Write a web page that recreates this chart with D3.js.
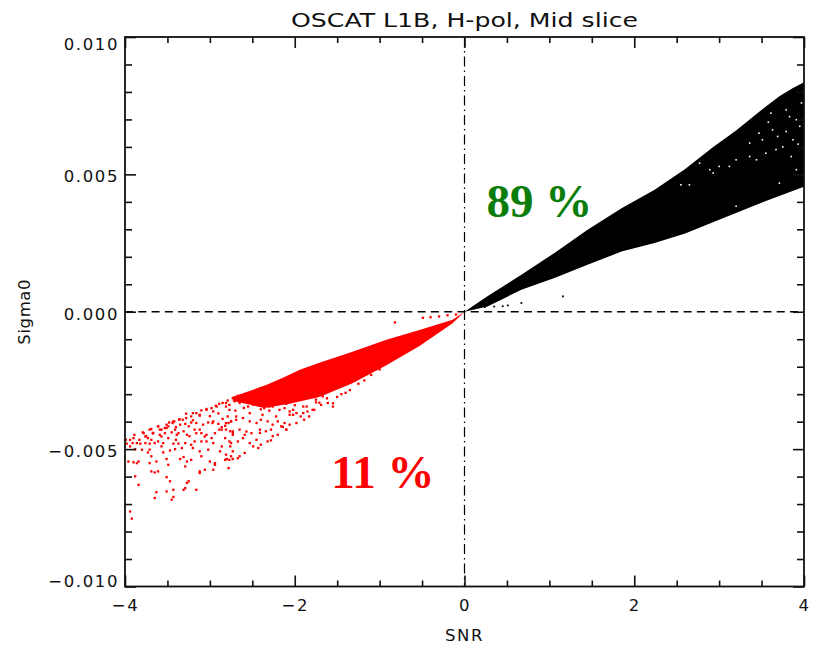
<!DOCTYPE html>
<html>
<head>
<meta charset="utf-8">
<script src="https://cdn.jsdelivr.net/npm/d3@7"></script>
<style>
  body { margin: 0; background: #fff; }
  text { font-family: "DejaVu Sans", sans-serif; fill: #111; }
</style>
</head>
<body>
<svg id="chart" width="817" height="650"></svg>
<script>
// ticks
const xTicks = [-4, -2, 0, 2, 4];
const xMinor = [-3.5, -3, -2.5, -1.5, -1, -0.5, 0.5, 1, 1.5, 2.5, 3, 3.5];
const yTicks = [-0.010, -0.005, 0, 0.005, 0.010];
const yMinor = [-0.009, -0.008, -0.007, -0.006, -0.004, -0.003, -0.002, -0.001,
                0.001, 0.002, 0.003, 0.004, 0.006, 0.007, 0.008, 0.009];

// all Sigma0 values below are in units of 1e-3, pairs are [SNR, Sigma0]
// edge of the dense black cloud (SNR > 0)
const blackUpper = [[0, 0], [0.27, 0.56], [0.67, 1.35], [1.06, 2.14], [1.45, 2.98], [1.85, 3.77],
  [2.24, 4.44], [2.6, 5.2], [2.93, 6.0], [3.2, 6.6], [3.48, 7.3], [3.71, 7.84], [3.87, 8.14], [4.0, 8.35]];
const blackLower = [[4.0, 4.55], [3.59, 4.08], [3.0, 3.35], [2.6, 2.85], [2.24, 2.5], [1.85, 2.19],
  [1.45, 1.71], [1.06, 1.23], [0.67, 0.8], [0.27, 0.19], [0, 0]];
// stray black points near the zero line
const blackDots = [[0.12, 0.13], [0.24, 0.17], [0.35, 0.19], [0.45, 0.2], [0.51, 0.23], [0.67, 0.32], [1.16, 0.56]];
// white gaps inside the black cloud
const blackGaps = [[3.63, 6.62], [3.69, 6.38], [3.79, 6.56], [3.87, 6.26], [3.95, 6.75], [3.51, 6.26],
  [3.36, 5.65], [3.44, 5.53], [3.2, 5.53], [3.0, 5.29], [2.93, 5.05], [3.12, 5.29], [3.61, 7.23],
  [3.79, 7.35], [3.91, 6.99], [3.85, 5.65], [3.91, 5.17], [3.67, 5.9], [3.55, 5.77], [3.36, 6.14],
  [3.47, 6.5], [2.55, 4.62], [2.65, 4.62], [3.71, 4.68], [3.2, 3.84], [2.77, 5.41], [2.89, 5.17],
  [3.97, 7.6], [3.83, 7.1], [3.93, 6.1], [3.75, 6.0], [3.58, 6.9]];

// dense core of the red cloud (SNR < 0)
const redUpper = [[0, 0], [-0.14, -0.29], [-0.53, -0.66], [-0.92, -1.02], [-1.32, -1.46], [-1.71, -1.86],
  [-1.94, -2.11], [-2.14, -2.4], [-2.33, -2.66], [-2.55, -2.9], [-2.73, -3.09]];
const redLower = [[-2.73, -3.25], [-2.36, -3.5], [-2.06, -3.35], [-1.71, -3.1], [-1.32, -2.6],
  [-0.92, -1.95], [-0.53, -1.25], [-0.14, -0.42], [0, 0]];
// scattered red points
const redDots = [
  [-3.43, -3.99], [-3.35, -4.11], [-3.29, -4.08], [-3.22, -4.03], [-3.16, -4.05], [-3.08, -4.11], [-3.02, -4.03],
  [-2.96, -3.99], [-2.9, -4.08], [-2.86, -4.2], [-2.82, -4.15], [-2.78, -4.05], [-2.75, -3.99],
  [-3.61, -4.17], [-3.53, -4.23], [-3.49, -4.17], [-3.41, -4.29], [-3.37, -4.42], [-3.31, -4.35], [-3.25, -4.17],
  [-3.18, -4.29], [-3.1, -4.42], [-3.04, -4.48], [-2.94, -4.42], [-2.86, -4.29], [-2.76, -4.35], [-2.73, -4.48],
  [-3.71, -4.29], [-3.67, -4.42], [-3.59, -4.48], [-3.57, -4.54], [-3.53, -4.42], [-3.45, -4.39], [-3.39, -4.48],
  [-3.27, -4.48], [-3.16, -4.42], [-3.06, -4.54], [-2.98, -4.6], [-2.82, -4.6], [-2.75, -4.78],
  [-3.78, -4.42], [-3.76, -4.54], [-3.73, -4.6], [-3.69, -4.66], [-3.61, -4.72], [-3.49, -4.6], [-3.43, -4.8],
  [-3.37, -4.8], [-3.29, -4.78], [-3.22, -4.84], [-3.18, -4.72], [-3.1, -4.72], [-3.04, -4.72], [-2.96, -4.78],
  [-2.86, -4.9], [-2.76, -4.9],
  [-3.94, -4.66], [-3.9, -4.6], [-3.86, -4.78], [-3.82, -4.8], [-3.76, -4.78], [-3.71, -4.8], [-3.65, -4.78],
  [-3.57, -4.9], [-3.47, -5.05], [-3.41, -5.0], [-3.33, -4.96], [-3.2, -4.96], [-3.12, -5.08], [-3.02, -5.02],
  [-2.88, -5.08], [-2.82, -5.39], [-2.75, -5.26],
  [-3.98, -4.8], [-3.94, -4.9], [-3.88, -5.0], [-3.8, -5.02], [-3.73, -5.12], [-3.69, -5.26], [-3.63, -5.45],
  [-3.55, -5.12], [-3.51, -5.36], [-3.35, -5.36], [-3.31, -5.29], [-3.27, -5.45], [-3.22, -5.39], [-3.1, -5.26],
  [-3.0, -5.45], [-2.94, -5.51], [-2.8, -5.36], [-2.73, -5.36],
  [-3.96, -5.45], [-3.9, -5.48], [-3.86, -5.51], [-3.84, -5.45], [-3.71, -5.51], [-3.61, -5.81], [-3.49, -5.57],
  [-3.29, -5.63], [-3.12, -5.81], [-3.06, -5.75], [-2.96, -5.75], [-2.94, -5.57], [-2.78, -5.69],
  [-3.88, -5.99], [-3.84, -6.3], [-3.69, -5.81], [-3.65, -5.85], [-3.51, -6.02], [-3.47, -6.17], [-3.29, -6.42],
  [-3.27, -6.23], [-3.25, -6.17], [-3.16, -6.48], [-3.12, -5.87],
  [-3.63, -6.57], [-3.65, -6.78], [-3.43, -6.48], [-3.45, -6.84], [-3.43, -6.74], [-3.31, -6.48], [-3.51, -6.54],
  [-3.94, -7.27], [-3.92, -7.53],
  [-2.81, -3.32], [-2.77, -3.39], [-2.71, -3.26], [-2.65, -3.32], [-2.59, -3.2], [-2.55, -3.45], [-2.49, -3.39],
  [-2.43, -3.32], [-2.36, -3.51], [-2.3, -3.45], [-2.24, -3.39], [-2.18, -3.57], [-2.12, -3.51], [-2.06, -3.63],
  [-2.02, -3.75], [-1.98, -3.69], [-1.93, -3.81], [-1.85, -3.63], [-1.77, -3.57], [-1.69, -3.39], [-1.61, -3.32],
  [-1.55, -3.45],
  [-2.79, -3.81], [-2.75, -3.99], [-2.69, -3.93], [-2.61, -3.87], [-2.53, -3.99], [-2.45, -4.05], [-2.4, -3.93],
  [-2.32, -3.99], [-2.26, -4.11], [-2.2, -3.99], [-2.12, -4.05], [-2.06, -4.11], [-1.98, -4.05], [-1.89, -3.93],
  [-1.83, -3.81],
  [-2.81, -4.29], [-2.73, -4.35], [-2.65, -4.29], [-2.59, -4.48], [-2.51, -4.42], [-2.41, -4.29], [-2.34, -4.35],
  [-2.28, -4.29], [-2.2, -4.48], [-2.1, -4.29], [-2.16, -4.17],
  [-2.77, -4.72], [-2.67, -4.72], [-2.61, -4.6], [-2.53, -4.78], [-2.45, -4.66], [-2.4, -4.84], [-2.32, -4.72],
  [-2.28, -4.68], [-2.43, -4.96], [-2.81, -5.2], [-2.73, -5.08], [-2.65, -5.26], [-2.59, -5.14], [-2.77, -5.39],
  [-2.67, -5.33], [-2.49, -4.9],
  [-1.45, -3.0], [-1.35, -2.85], [-1.25, -2.62], [-1.18, -2.5], [-1.5, -3.1], [-1.62, -3.15], [-1.75, -3.3],
  [-1.9, -3.45], [-2.0, -3.4], [-2.1, -3.35], [-2.2, -3.3], [-2.3, -3.6], [-2.4, -3.55], [-2.6, -3.5],
  [-2.14, -4.19], [-1.71, -3.31], [-1.4, -2.95], [-1.1, -2.3], [-1.0, -2.1],
  [-3.99, -4.66], [-3.89, -4.48], [-3.79, -4.39], [-3.69, -4.27], [-3.61, -4.17], [-3.57, -4.29], [-3.48, -4.03],
  [-3.42, -3.99], [-3.36, -3.91], [-3.28, -3.71], [-3.22, -3.81], [-3.16, -3.69], [-3.1, -3.59], [-3.04, -3.54],
  [-2.98, -3.51], [-2.93, -3.42], [-2.89, -3.35], [-2.85, -3.32], [-2.79, -3.23], [-2.73, -3.14], [-2.67, -3.06],
  [-3.12, -3.78], [-2.96, -3.63], [-2.81, -3.45], [-3.32, -3.93], [-3.51, -4.11], [-3.67, -4.42],
  [-3.0, -3.8], [-2.9, -3.7], [-3.2, -3.95], [-3.4, -4.2], [-2.7, -3.6], [-2.85, -3.9],
  [-2.65, -3.08], [-2.57, -3.2], [-2.49, -3.02], [-2.41, -3.31], [-2.34, -3.2], [-2.26, -3.45], [-2.18, -3.08],
  [-2.1, -3.31], [-2.02, -3.57], [-1.94, -3.2], [-1.86, -3.45], [-1.75, -3.2], [-1.67, -3.08], [-1.55, -3.33],
  [-2.77, -3.57], [-2.92, -3.45], [-3.04, -3.57], [-3.12, -3.75], [-3.2, -3.69], [-3.28, -3.87], [-3.36, -3.93],
  [-3.44, -4.05], [-3.51, -4.23], [-3.59, -4.29], [-3.67, -4.41], [-3.75, -4.53], [-3.83, -4.66], [-3.91, -4.78],
  [-2.69, -3.81], [-2.53, -3.69], [-2.38, -3.75], [-2.22, -3.81], [-2.06, -3.75], [-1.9, -3.69], [-1.79, -3.57],
  [-2.81, -4.05], [-2.97, -4.05], [-2.89, -4.29], [-2.73, -4.41], [-2.57, -4.36], [-2.41, -4.41], [-2.26, -4.53],
  [-2.1, -4.29], [-3.12, -4.29], [-3.24, -4.53], [-3.4, -4.66], [-3.55, -4.78], [-3.71, -5.02],
  [-1.71, -2.72], [-1.47, -2.72], [-1.32, -2.47], [-1.16, -2.23], [-1.0, -1.99],
  [-0.82, -0.39], [-0.49, -0.22], [-0.4, -0.2], [-0.3, -0.17], [-0.2, -0.13], [-0.1, -0.1]
];

const titleText = "OSCAT L1B, H-pol, Mid slice";
const xLabel = "SNR", yLabel = "Sigma0";
const pctLabels = [
  { text: "89 %", snr: 0.26, sigma: 3.46, color: "#0b7d0b" },
  { text: "11 %", snr: -1.57, sigma: -6.42, color: "#ff0000" }
];

const mLeft = 125, mRight = 804, mTop = 37, mBottom = 586.5;
const svg = d3.select("#chart");

const x = d3.scaleLinear().domain([-4, 4]).range([mLeft, mRight]);
const y = d3.scaleLinear().domain([-0.010, 0.010]).range([mBottom, mTop]);
const px = d => x(d[0]);
const py = d => y(d[1] * 1e-3);

svg.append("clipPath").attr("id", "clip")
  .append("rect").attr("x", mLeft).attr("y", mTop).attr("width", mRight - mLeft).attr("height", mBottom - mTop);

const plot = svg.append("g").attr("clip-path", "url(#clip)");

// dense clouds as filled shapes
const line = d3.line().x(px).y(py);
plot.append("path").attr("d", line(blackUpper.concat(blackLower)) + "Z").attr("fill", "#000");
plot.append("path").attr("d", line(redUpper.concat(redLower)) + "Z").attr("fill", "#ff0000");

function dots(data, color, size) {
  plot.append("g").selectAll("rect").data(data).enter().append("rect")
    .attr("x", d => px(d) - size / 2)
    .attr("y", d => py(d) - size / 2)
    .attr("width", size).attr("height", size)
    .attr("fill", color);
}
dots(blackGaps, "#fff", 1.6);
dots(blackDots, "#000", 1.8);
dots(redDots, "#ff0000", 2.3);

// zero lines
plot.append("line").attr("x1", mLeft).attr("x2", mRight).attr("y1", y(0)).attr("y2", y(0))
  .attr("stroke", "#000").attr("stroke-width", 1.4).attr("stroke-dasharray", "8,5.3");
plot.append("line").attr("x1", x(0)).attr("x2", x(0)).attr("y1", mTop).attr("y2", mBottom)
  .attr("stroke", "#000").attr("stroke-width", 1.2).attr("stroke-dasharray", "10,4,1.5,4");

// axes, ticks pointing inwards
function addAxis(axis, tr, labels) {
  const g = svg.append("g").attr("transform", tr).call(axis);
  g.select(".domain").remove();
  g.selectAll(".tick line").attr("stroke", "#111").attr("stroke-width", 1.6);
  if (!labels) g.selectAll(".tick text").remove();
  return g;
}
const fmtY = d3.format(".3f");

const gx = addAxis(d3.axisBottom(x).tickValues(xTicks).tickSize(-11).tickPadding(13).tickFormat(d3.format("d")),
  `translate(0,${mBottom})`, true);
addAxis(d3.axisBottom(x).tickValues(xMinor).tickSize(-6), `translate(0,${mBottom})`, false);
addAxis(d3.axisTop(x).tickValues(xTicks).tickSize(-11), `translate(0,${mTop})`, false);
addAxis(d3.axisTop(x).tickValues(xMinor).tickSize(-6), `translate(0,${mTop})`, false);

const gy = addAxis(d3.axisLeft(y).tickValues(yTicks).tickSize(-11).tickPadding(6).tickFormat(fmtY),
  `translate(${mLeft},0)`, true);
addAxis(d3.axisLeft(y).tickValues(yMinor).tickSize(-7), `translate(${mLeft},0)`, false);
addAxis(d3.axisRight(y).tickValues(yTicks).tickSize(-11), `translate(${mRight},0)`, false);
addAxis(d3.axisRight(y).tickValues(yMinor).tickSize(-7), `translate(${mRight},0)`, false);

[gx, gy].forEach(g => g.selectAll(".tick text")
  .style("font-family", '"DejaVu Sans", sans-serif')
  .attr("font-size", 16.5).attr("fill", "#111").style("letter-spacing", "1.6px"));
gy.selectAll(".tick text").attr("dy", d => d === 0.010 ? "0.75em" : d === -0.010 ? "-0.02em" : "0.45em");

// frame
svg.append("rect").attr("x", mLeft).attr("y", mTop).attr("width", mRight - mLeft).attr("height", mBottom - mTop)
  .attr("fill", "none").attr("stroke", "#111").attr("stroke-width", 1.8);

// titles
svg.append("text").attr("x", (mLeft + mRight) / 2).attr("y", 27).attr("text-anchor", "middle")
  .attr("font-size", 20).attr("textLength", 347).attr("lengthAdjust", "spacingAndGlyphs").text(titleText);
svg.append("text").attr("x", x(0)).attr("y", 641).attr("text-anchor", "middle")
  .attr("font-size", 16.5).style("letter-spacing", "1.6px").text(xLabel);
svg.append("text").attr("transform", `translate(30,${y(0)}) rotate(-90)`).attr("text-anchor", "middle")
  .attr("font-size", 16.5).style("letter-spacing", "0.6px").text(yLabel);

// percentage annotations
svg.selectAll(".pct").data(pctLabels).enter().append("text")
  .attr("class", "pct")
  .attr("x", d => x(d.snr)).attr("y", d => y(d.sigma * 1e-3))
  .style("font-family", '"Liberation Serif", "DejaVu Serif", serif')
  .style("fill", d => d.color)
  .attr("font-size", 47).attr("font-weight", "bold")
  .text(d => d.text);
</script>
</body>
</html>
